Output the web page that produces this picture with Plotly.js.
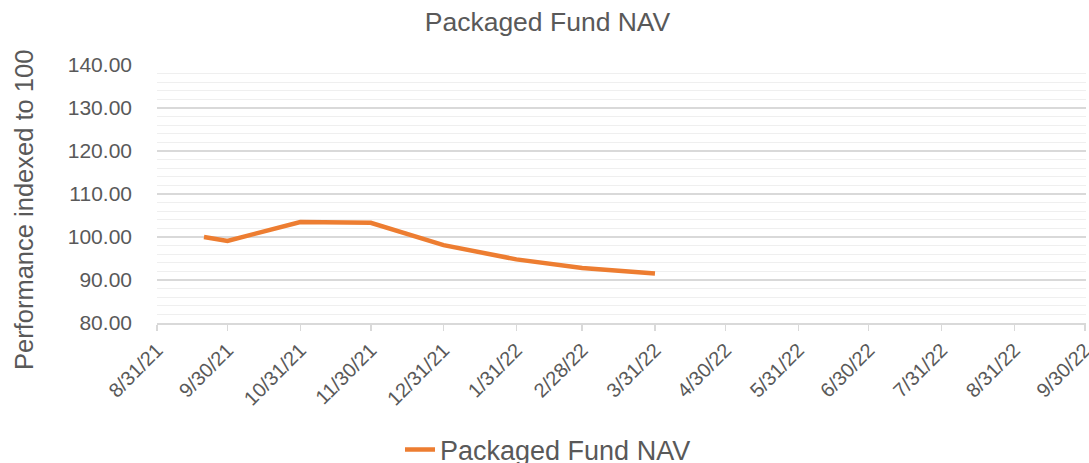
<!DOCTYPE html>
<html>
<head>
<meta charset="utf-8">
<script src="https://cdn.plot.ly/plotly-3.0.1.min.js"></script>
<style>html,body{margin:0;padding:0;background:#fff;}#chart{width:1089px;height:463px;}</style>
</head>
<body>
<div id="chart"></div>
<script>
const dates = ['2021-09-20','2021-09-30','2021-10-31','2021-11-30','2021-12-31','2022-01-31','2022-02-28','2022-03-31'];
const navValues = [100.0, 99.1, 103.5, 103.3, 98.1, 94.8, 92.8, 91.5];
const tickDates = ['2021-08-31','2021-09-30','2021-10-31','2021-11-30','2021-12-31','2022-01-31','2022-02-28','2022-03-31','2022-04-30','2022-05-31','2022-06-30','2022-07-31','2022-08-31','2022-09-30'];
const tickLabels = ['8/31/21','9/30/21','10/31/21','11/30/21','12/31/21','1/31/22','2/28/22','3/31/22','4/30/22','5/31/22','6/30/22','7/31/22','8/31/22','9/30/22'];
const yTicks = [80,90,100,110,120,130,140];
const yTickLabels = ['80.00','90.00','100.00','110.00','120.00','130.00','140.00'];

const trace = {
  x: dates, y: navValues, type: 'scatter', mode: 'lines',
  name: 'Packaged Fund NAV',
  line: {color: '#ED7D31', width: 4.5, shape: 'linear'}
};
const layout = {
  width: 1089, height: 463,
  margin: {l: 157, r: 3, t: 65, b: 140, autoexpand: false},
  paper_bgcolor: '#fff', plot_bgcolor: '#fff',
  font: {family: 'Liberation Sans, Arial, sans-serif', color: '#595959'},
  title: {text: 'Packaged Fund NAV', font: {size: 26.5, color: '#595959'}, x: 547.5/1089, xanchor: 'center', y: 1 - 22/463, yanchor: 'middle', automargin: false},
  showlegend: true,
  legend: {orientation: 'h', xref: 'container', yref: 'container', x: 400/1089, xanchor: 'left', y: 13/463, yanchor: 'middle', font: {size: 27, color: '#595959'}},
  xaxis: {
    type: 'date', range: ['2021-08-31','2022-09-30 12:00'], automargin: false,
    tickmode: 'array', tickvals: tickDates, ticktext: tickLabels,
    tickangle: -45, tickfont: {size: 20, color: '#595959'}, ticklabeloverflow: 'allow',
    showgrid: false, zeroline: false,
    showline: true, linecolor: '#d9d9d9', linewidth: 1.5,
    ticks: 'outside', ticklen: 6, tickcolor: '#d9d9d9', tickwidth: 1.5
  },
  yaxis: {
    range: [80, 140], tickmode: 'array', tickvals: yTicks, ticktext: yTickLabels, automargin: false,
    tickfont: {size: 21, color: '#595959'}, ticks: '', ticklen: 0, ticklabelstandoff: 24,
    showgrid: true, gridcolor: '#d9d9d9', gridwidth: 1.2, zeroline: false, showline: false,
    minor: {dtick: 2, showgrid: true, gridcolor: '#efefef', gridwidth: 1.2}
  },
  annotations: [{
    text: 'Performance indexed to 100', textangle: -90,
    xref: 'paper', yref: 'paper', x: (24-157)/929, y: (323-210)/258,
    xanchor: 'center', yanchor: 'middle', showarrow: false,
    font: {size: 25.5, color: '#595959'}
  }]
};
Plotly.newPlot('chart', [trace], layout, {displayModeBar: false, staticPlot: true});
</script>
</body>
</html>
